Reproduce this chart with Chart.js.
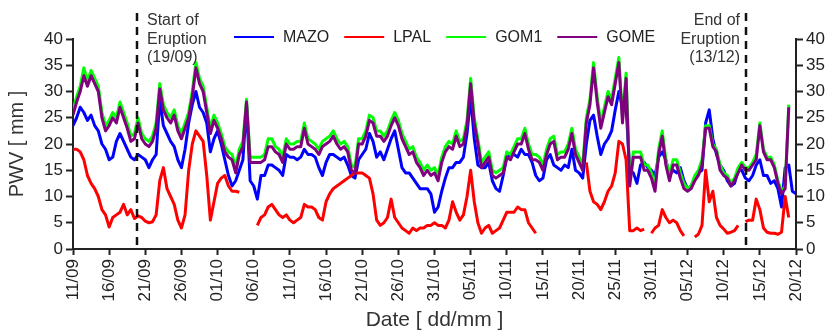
<!DOCTYPE html>
<html>
<head>
<meta charset="utf-8">
<title>PWV - La Palma</title>
<script src="https://cdn.jsdelivr.net/npm/chart.js@4.4.1/dist/chart.umd.min.js"></script>
<style>
  html, body { margin: 0; padding: 0; background: #fff; }
  #wrap { width: 833px; height: 335px; }
</style>
</head>
<body>
<div id="wrap"><canvas id="pwvChart" width="833" height="335"></canvas></div>
<script>
// PWV at four GNSS stations, one sample every half day from 11/09 (day 0)
const sampleStep = 0.5;

const tickLabels = ['11/09', '16/09', '21/09', '26/09', '01/10', '06/10', '11/10', '16/10',
    '21/10', '26/10', '31/10', '05/11', '10/11', '15/11', '20/11', '25/11', '30/11',
    '05/12', '10/12', '15/12', '20/12'];

const stationNames = ['MAZO', 'LPAL', 'GOM1', 'GOME'];

// one row = 5 days
const mazo = [
    23.5, 25, 27, 26, 24.5, 25.5, 23.5, 22.5, 20, 19,
    17, 17.5, 20.5, 22, 20.5, 19, 17.5, 17, 18, 17.5,
    17, 15.5, 17, 18, 28.5, 23.5, 22, 20.5, 19.5, 17,
    15.5, 19, 24, 27.5, 30, 27, 26, 24, 18.5, 21,
    22.5, 20, 17, 14, 12, 13, 15, 17, 27.5, 13,
    12, 9.5, 14, 14, 16, 16, 15.5, 15, 14, 18,
    17.5, 17.5, 17, 17.5, 19, 18, 18, 17.5, 15.5, 14,
    16.5, 18, 18, 17.5, 17, 17.5, 16, 14, 13.5, 17,
    18, 19, 22, 20.5, 17.5, 18.5, 17, 19, 21, 22.5,
    19, 15.5, 14.5, 14.5, 13.5, 12.5, 11.5, 11.5, 11.5, 10.5,
    7, 8, 11, 13.5, 15.5, 15.5, 16.5, 16.5, 17.5, 22,
    29, 21, 16, 15.5, 15.5, 16.5, 13, 11.5, 11, 14,
    17.5, 18, 18, 17.5, 19, 18, 18, 16.5, 14, 13,
    13.5, 17, 18, 16, 15.5, 15, 16, 15.5, 19, 15,
    14.5, 13.5, 20, 24.5, 25.5, 21.5, 18, 20, 21, 22.5,
    26.5, 30, 27, 27, 15, 14.5, 12.5, 16, 16.5, 15.5,
    15, 14, 17.5, 18.5, 17, 14, 15, 14.5, 15.5, 13,
    11.5, 12, 13.5, 14.5, 15, 24, 26.5, 21, 18, 16,
    15, 13, 12, 12.5, 15, 15, 13.5, 13, 14, 16,
    17, 14, 14, 12.5, 13, 11.5, 8, 15.5, 16, 11,
    10.5
];

const lpal = [
    19, 19, 18.5, 17, 14, 12.5, 11.5, 10, 7.5, 6.5,
    4.2, 6, 6.5, 7, 8.5, 6.5, 7.5, 5.8, 6.3, 6,
    5.3, 5, 5.2, 6.5, 13, 15.5, 11.5, 10, 8.5, 5.5,
    4, 6.5, 15, 20, 22.5, 21.5, 20.5, 14, 5.5, 9,
    12.5, 13.5, 14, 12, 11, 11, 10.8, null, null, null,
    null, 4.5, 6, 6.5, 8, 8.5, 7.5, 6.5, 6, 6.5,
    5.5, 5, 5.5, 6, 8.5, 8, 8, 7.5, 6, 5.5,
    9, 10.5, 11.5, 12, 12.5, 13, 13.5, 14, 14.5, 14.5,
    14.5, 14, 13.5, 10.5, 5.5, 4.5, 5, 6, 9.5, 6,
    5, 4, 3.5, 3, 4, 3.5, 4, 4, 4.5, 4.5,
    5, 4.5, 4.5, 4, 5.5, 9, 7, 5.5, 6.5, 10,
    15, 9, 5, 3, 4, 4.5, 3, 3.5, 4, 5.5,
    7, 7, 7, 8, 7.5, 7.5, 5, 4, 3, null,
    null, null, null, null, null, null, null, null, null, null,
    null, null, 16.5, 11, 9, 8.5, 7.5, 9, 11, 12,
    14.5, 20.5, 20, 17, 3.5, 3.5, 4, 3.5, 3.8, null,
    3, 4, 4.5, 7.5, 6, 5, 5.5, 5, 3.5, 2.5,
    null, null, 2.3, 2.8, 4.5, 15, 9, 11, 6, 4.5,
    3.8, 3, 3.2, 3.5, 4.5, null, 5.2, 5.5, 5.5, 9.5,
    7.5, 4, 3.2, 3, 3, 2.8, 3.2, 10, 6, null,
    null
];

const gom1 = [
    26.5, 29, 31, 34.5, 32, 34, 32.5, 31, 26, 23.5,
    24.5, 26, 25, 28, 26, 24, 21.5, 22, 25, 22,
    21, 20.5, 21.5, 24, 31.5, 27.5, 26, 25, 26.5, 23.5,
    22, 24, 26, 30, 35.5, 32.5, 31, 27, 23, 25.5,
    24, 22, 19.5, 18.5, 18, 15.5, 19, 20.5, 28.5, 17.5,
    17.5, 17.5, 17.5, 18, 21, 21, 19.5, 19, 17.5, 21,
    20, 20, 20.5, 20.5, 24, 21, 20.5, 20, 19, 20.5,
    21, 21.5, 22.5, 21, 20, 20.5, 19.5, 16, 15.5, 21,
    21, 22.5, 25.5, 25, 22.5, 22.5, 21.5, 22.5, 24.5, 26,
    24.5, 22, 20.5, 19, 19.5, 17.5, 16.5, 15, 16, 15,
    15.5, 14, 17.5, 19.5, 20.5, 20, 22.5, 20.5, 21, 24.5,
    32.5, 25, 21, 16.5, 17.5, 18.5, 15, 14.5, 15, 15.5,
    18.5, 18, 19.5, 21, 21, 23, 20, 18, 18, 17.5,
    16, 19, 21, 21.5, 18, 18.5, 18.5, 20, 23, 19,
    17.5, 16, 25, 28.5, 35.5, 29, 24, 27, 30, 28.5,
    32.5, 36.5, 25, 33.5, 13, 18.5, 18.5, 18.5, 16, 16,
    14.5, 12, 19, 22.5, 17, 14, 17, 17, 14.5, 12.5,
    11.5, 12, 14, 15, 17, 23.5, 23.5, 20, 19, 16,
    14.5, 14, 12.5, 13.5, 15.5, 16.5, 15.5, 15.5, 16.5, 18,
    24, 19, 17.5, 17.5, 16, 13, 11, 12, 27.5, null,
    null
];

const gome = [
    25.5, 28, 30, 33, 31, 33, 31.5, 30, 25, 22.5,
    23.5, 25, 24, 27, 25, 23, 20.5, 21, 24, 21,
    20, 19.5, 20.5, 23, 30.5, 26.5, 25, 24, 25.5, 22.5,
    21, 23, 25, 29, 34.5, 31.5, 30, 26, 22, 24.5,
    23, 21, 18.5, 17.5, 17, 14.5, 18, 19.5, 28, 16.5,
    16.5, 16.5, 16.5, 17, 19.5, 19.5, 18.5, 18, 16.5, 20,
    19, 19, 19.5, 19.5, 23, 20, 19.5, 19, 18, 19.5,
    20, 20.5, 21.5, 20, 19, 19.5, 18.5, 15, 14.5, 20,
    20, 21.5, 24.5, 24, 21.5, 21.5, 20.5, 21.5, 23.5, 25,
    23.5, 21, 19.5, 18, 18.5, 16.5, 15.5, 14, 15, 14,
    14.5, 13, 16.5, 18.5, 19.5, 19, 21.5, 19.5, 20, 23.5,
    31.5, 24, 20, 15.5, 16.5, 17.5, 14, 13.5, 14, 14.5,
    17.5, 17, 18.5, 20, 20, 22, 19, 17, 17, 16.5,
    15, 18, 20, 20.5, 17, 17.5, 17.5, 19, 22, 18,
    16.5, 15, 24, 27.5, 34.5, 28, 23, 26, 29, 27.5,
    31.5, 35.5, 24, 32.5, 12, 17.5, 17.5, 17.5, 15, 15,
    13.5, 11, 18, 21.5, 16, 13, 16, 16, 13.5, 11.5,
    11, 11.5, 13, 14, 16, 23, 23, 19.5, 18.5, 15,
    14, 13.5, 12, 13, 14.5, 16, 15, 15, 16, 17,
    23.5, 18.5, 17, 17, 15.5, 12.5, 10.5, 11.5, 27, null,
    null
];

// eruption start and end, in days from 11/09
const eruptionDays = [8.8, 93.1];
const eruptionNotes = [['Start of', 'Eruption', '(19/09)'], ['End of', 'Eruption', '(13/12)']];

const FONT = '"Liberation Sans", Arial, Helvetica, sans-serif';
Chart.defaults.font.family = FONT;
Chart.defaults.color = '#222';

function toPoints(values) {
    return values.map((v, i) => ({ x: i * sampleStep, y: v }));
}

// dashed lines with the start / end notes
const eruptionMarks = {
    id: 'eruptionMarks',
    afterDatasetsDraw(chart) {
        const { ctx, chartArea, scales } = chart;
        ctx.save();
        eruptionDays.forEach((day, i) => {
            const px = Math.round(scales.x.getPixelForValue(day));
            ctx.strokeStyle = '#111';
            ctx.lineWidth = 2.5;
            ctx.setLineDash([8, 6]);
            ctx.beginPath();
            ctx.moveTo(px, 13);
            ctx.lineTo(px, chartArea.bottom);
            ctx.stroke();
            ctx.setLineDash([]);

            ctx.font = '16px ' + FONT;
            ctx.fillStyle = '#333';
            ctx.textBaseline = 'alphabetic';
            const isStart = i === 0;
            ctx.textAlign = isStart ? 'left' : 'right';
            const tx = isStart ? px + 10 : px - 6;
            eruptionNotes[i].forEach((line, k) => ctx.fillText(line, tx, 25 + k * 18.5));
        });
        ctx.restore();
    }
};

// single-row legend across the top of the plot
const lineLegend = {
    id: 'lineLegend',
    afterDraw(chart) {
        const { ctx } = chart;
        ctx.save();
        ctx.font = '16px ' + FONT;
        ctx.textBaseline = 'middle';
        ctx.textAlign = 'left';
        let cx = 234;
        const cy = 37;
        chart.data.datasets.forEach(ds => {
            ctx.strokeStyle = ds.borderColor;
            ctx.lineWidth = 2;
            ctx.beginPath();
            ctx.moveTo(cx, cy);
            ctx.lineTo(cx + 40, cy);
            ctx.stroke();
            ctx.fillStyle = '#222';
            ctx.fillText(ds.label, cx + 49, cy + 1);
            cx += 49 + ctx.measureText(ds.label).width + 15;
        });
        ctx.restore();
    }
};

const axisTicks = { color: '#222', font: { size: 17 } };
const axisGrid = { drawOnChartArea: false, tickLength: 7, tickColor: '#222', tickWidth: 2 };
const axisBorder = { display: true, color: '#222', width: 2 };

new Chart(document.getElementById('pwvChart'), {
    type: 'line',
    data: {
        datasets: [
            { label: stationNames[0], data: toPoints(mazo), borderColor: '#0000ff', order: 4 },
            { label: stationNames[1], data: toPoints(lpal), borderColor: '#ff0000', order: 3 },
            { label: stationNames[2], data: toPoints(gom1), borderColor: '#00ff00', order: 2 },
            { label: stationNames[3], data: toPoints(gome), borderColor: '#800080', order: 1 }
        ]
    },
    options: {
        responsive: false,
        animation: false,
        spanGaps: false,
        layout: { padding: { top: 39, left: 0, right: 0, bottom: 0 } },
        elements: {
            point: { radius: 0 },
            line: { borderWidth: 3, tension: 0, fill: false, borderJoinStyle: 'round' }
        },
        plugins: {
            legend: { display: false },
            tooltip: { enabled: false }
        },
        scales: {
            x: {
                type: 'linear',
                min: 0,
                max: 100,
                ticks: {
                    ...axisTicks,
                    stepSize: 5,
                    autoSkip: false,
                    minRotation: 90,
                    maxRotation: 90,
                    padding: 4,
                    callback: v => tickLabels[Math.round(v / 5)]
                },
                grid: { ...axisGrid, tickLength: 6 },
                border: axisBorder,
                title: {
                    display: true,
                    text: 'Date [ dd/mm ]',
                    color: '#333',
                    font: { size: 21 },
                    padding: { top: 0, bottom: 2 }
                },
                afterFit: s => { s.height = 86; }
            },
            y: {
                position: 'left',
                min: 0,
                max: 40,
                ticks: { ...axisTicks, stepSize: 5, padding: 3 },
                grid: axisGrid,
                border: axisBorder,
                title: {
                    display: true,
                    text: 'PWV [ mm ]',
                    color: '#333',
                    font: { size: 20 },
                    padding: { top: 5, bottom: 0 }
                },
                afterFit: s => { s.width = 73; }
            },
            y2: {
                position: 'right',
                min: 0,
                max: 40,
                ticks: { ...axisTicks, stepSize: 5, padding: 3 },
                grid: axisGrid,
                border: axisBorder,
                afterFit: s => { s.width = 37; }
            }
        }
    },
    plugins: [eruptionMarks, lineLegend]
});
</script>
</body>
</html>
